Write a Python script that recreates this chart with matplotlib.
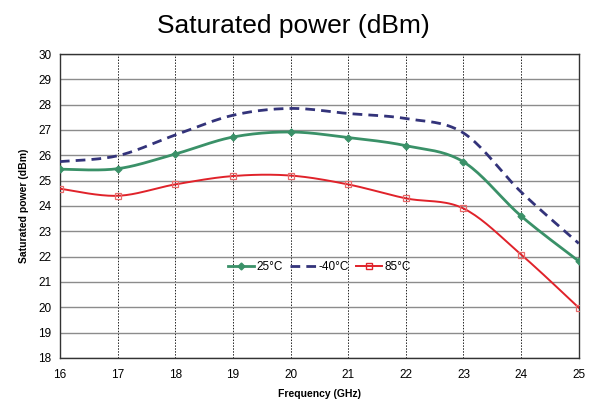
import numpy as np
import matplotlib
matplotlib.use("Agg")
import matplotlib.pyplot as plt
from matplotlib.lines import Line2D

plt.rcParams['font.family'] = ['Liberation Sans', 'DejaVu Sans']

freq = [16, 17, 18, 19, 20, 21, 22, 23, 24, 25]
p_25 = [25.45, 25.47, 26.05, 26.72, 26.92, 26.70, 26.38, 25.74, 23.60, 21.82]
p_m40 = [25.75, 25.98, 26.80, 27.58, 27.85, 27.65, 27.45, 26.88, 24.55, 22.52]
p_85 = [24.68, 24.40, 24.85, 25.18, 25.20, 24.85, 24.30, 23.90, 22.08, 19.98]
labels = ['25°C', '-40°C', '85°C']
yticks = list(range(18, 31))
xticks = list(range(16, 26))


def smooth(x, y, n=20):
    """Excel-like smoothed line rendering (Catmull-Rom)."""
    x = np.asarray(x, float); y = np.asarray(y, float)
    P = np.column_stack([x, y])
    P = np.vstack([P[0], P, P[-1]])
    out = []
    t = np.linspace(0, 1, n, endpoint=False)
    for i in range(1, len(P) - 2):
        p0, p1, p2, p3 = P[i - 1], P[i], P[i + 1], P[i + 2]
        b1 = p1 + (p2 - p0) / 6
        b2 = p2 - (p3 - p1) / 6
        pts = ((1 - t) ** 3)[:, None] * p1 + (3 * (1 - t) ** 2 * t)[:, None] * b1 \
            + (3 * (1 - t) * t ** 2)[:, None] * b2 + (t ** 3)[:, None] * p2
        out.append(pts)
    out.append(P[-2][None, :])
    c = np.vstack(out)
    return c[:, 0], c[:, 1]


fig = plt.figure(figsize=(5.93, 4.03), dpi=100)
ax = fig.add_axes([0.101, 0.112, 0.875, 0.754])

green = '#3a9168'
navy = '#33337a'
red = '#e0222a'

xs, ys = smooth(freq, p_25)
ax.plot(xs, ys, color=green, lw=2.0, zorder=3)
ax.plot(freq, p_25, ls='none', marker='D', ms=3.5, color=green, zorder=4)

xs, ys = smooth(freq, p_m40)
ax.plot(xs, ys, color=navy, lw=2.0, ls=(0, (3.5, 2.2)), zorder=3)

xs, ys = smooth(freq, p_85)
ax.plot(xs, ys, color=red, lw=1.4, zorder=3)
ax.plot(freq, p_85, ls='none', marker='s', ms=5, mfc='none', mec='#e86a6a', mew=0.9, zorder=4)

ax.set_xlim(16, 25)
ax.set_ylim(18, 30)
ax.set_xticks(xticks)
ax.set_yticks(yticks)
ax.tick_params(axis='both', length=0, labelsize=8.5, pad=8)
ax.tick_params(axis='y', pad=6)

ax.grid(axis='y', color='#8c8c8c', lw=1.0, ls='-', zorder=0)
ax.grid(axis='x', color='#222222', lw=0.7, ls=(0, (1.5, 1.5)), zorder=0)
for s in ax.spines.values():
    s.set_color('#333333')
    s.set_linewidth(1.0)

ax.set_xlabel('Frequency (GHz)', fontsize=7.5, fontweight='bold', labelpad=6)
ax.set_ylabel('Saturated power (dBm)', fontsize=7.5, fontweight='bold', labelpad=7)
fig.text(0.495, 0.935, 'Saturated power (dBm)', ha='center', va='center', fontsize=19)

handles = [
    Line2D([], [], color=green, lw=2.0, marker='D', ms=3.5),
    Line2D([], [], color=navy, lw=2.0, ls=(0, (3.5, 2.2))),
    Line2D([], [], color=red, lw=1.4, marker='s', ms=5, mfc='none', mec=red),
]
ax.legend(handles, labels, loc='center', bbox_to_anchor=(0.5, 0.3), ncol=3,
          frameon=False, fontsize=8.5, handlelength=2.2, handletextpad=0.2,
          columnspacing=0.6)

fig.savefig('out.png', dpi=100)
